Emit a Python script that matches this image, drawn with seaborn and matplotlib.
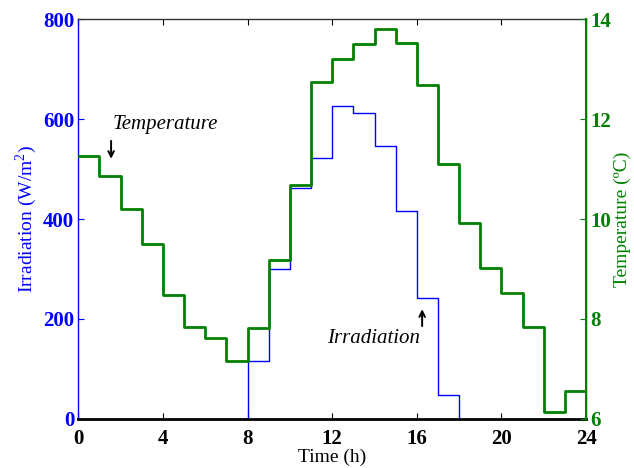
import matplotlib
matplotlib.use("Agg")
import matplotlib.pyplot as plt
import seaborn as sns
import numpy as np
import pandas as pd

hours_temp = list(range(0, 25))
temperature = [11.27, 10.87, 10.2, 9.5, 8.48, 7.83, 7.62, 7.16, 7.82, 9.18, 10.68,
               12.74, 13.2, 13.51, 13.81, 13.53, 12.69, 11.1, 9.92, 9.02, 8.52,
               7.83, 6.13, 6.56]
hours_irr = list(range(7, 19))
irradiation = [0, 115, 299, 462, 523, 626, 613, 547, 417, 241, 48]

x_ticks = [0, 4, 8, 12, 16, 20, 24]
irr_ticks = [0, 200, 400, 600, 800]
temp_ticks = [6, 8, 10, 12, 14]

sns.set_style("white")
plt.rcParams['font.family'] = ['Liberation Serif', 'DejaVu Serif']
plt.rcParams['mathtext.fontset'] = 'custom'
plt.rcParams['mathtext.rm'] = 'Liberation Serif'
plt.rcParams['text.color'] = 'black'
plt.rcParams['axes.labelcolor'] = 'black'
plt.rcParams['xtick.color'] = 'black'

BLUE = '#0000ff'
GREEN = '#008000'

df_t = pd.DataFrame({'h': hours_temp, 'T': temperature + [temperature[-1]]})
df_i = pd.DataFrame({'h': hours_irr, 'I': irradiation + [0]})

fig = plt.figure(figsize=(6.34, 4.68), dpi=100)
ax = fig.add_axes([0.1235, 0.105, 0.801, 0.854])
ax2 = ax.twinx()

sns.lineplot(data=df_i, x='h', y='I', ax=ax, drawstyle='steps-post', color=BLUE,
             linewidth=1.0, estimator=None)
sns.lineplot(data=df_t, x='h', y='T', ax=ax2, drawstyle='steps-post', color=GREEN,
             linewidth=2.0, estimator=None)

ax.set_xlim(0, 24)
ax.set_ylim(0, 800)
ax2.set_ylim(6, 14)
ax.set_xticks(x_ticks)
ax.set_yticks(irr_ticks)
ax2.set_yticks(temp_ticks)

tick_font = dict(fontsize=15, fontweight='bold')
ax.set_xticklabels([str(v) for v in x_ticks], color='black', **tick_font)
ax.set_yticklabels([str(v) for v in irr_ticks], color=BLUE, **tick_font)
ax2.set_yticklabels([str(v) for v in temp_ticks], color=GREEN, **tick_font)

ax.set_xlabel('Time (h)', fontsize=14, labelpad=0, color='black')
ax.set_ylabel('Irradiation (W/m$^2$)', fontsize=14, color=BLUE, labelpad=3)
ax2.set_ylabel('Temperature (ºC)', fontsize=14, color=GREEN, labelpad=2)

for a in (ax, ax2):
    for s in a.spines.values():
        s.set_linewidth(1.0)
ax.spines['left'].set_color(BLUE)
ax.spines['bottom'].set_color('black')
ax.spines['bottom'].set_linewidth(2.0)
ax.spines['top'].set_color('#333333')
ax2.spines['right'].set_color(GREEN)
ax2.spines['right'].set_linewidth(1.5)
ax2.spines['left'].set_visible(False)
ax2.spines['bottom'].set_visible(False)
ax2.spines['top'].set_visible(False)

ax.tick_params(axis='x', direction='in', length=4, top=True, bottom=True, pad=7, colors='black')
ax.tick_params(axis='y', direction='in', length=4, colors=BLUE, pad=3)
ax2.tick_params(axis='y', direction='in', length=4, colors=GREEN, pad=3)

ax.text(1.6, 590, 'Temperature', fontsize=15, fontstyle='italic', ha='left', va='center',
        color='black')
ax.annotate('', xy=(1.55, 515), xytext=(1.55, 562),
            arrowprops=dict(arrowstyle='->', color='black', lw=1.4))
ax.text(11.75, 160, 'Irradiation', fontsize=15, fontstyle='italic', ha='left', va='center',
        color='black')
ax.annotate('', xy=(16.25, 225), xytext=(16.25, 180),
            arrowprops=dict(arrowstyle='->', color='black', lw=1.4))

fig.savefig('out.png', dpi=100)
